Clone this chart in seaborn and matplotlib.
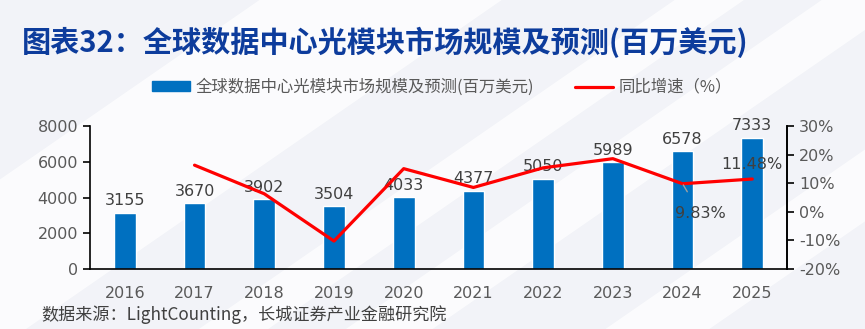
import matplotlib
matplotlib.use("Agg")
import matplotlib.pyplot as plt
import matplotlib.patches as mpatches
import matplotlib.lines as mlines
from matplotlib.ticker import FuncFormatter, FixedLocator
import seaborn as sns
import pandas as pd
import numpy as np

years = ["2016", "2017", "2018", "2019", "2020", "2021", "2022", "2023", "2024", "2025"]
market = [3155, 3670, 3902, 3504, 4033, 4377, 5050, 5989, 6578, 7333]
growth = [None, 0.1632, 0.0632, -0.1020, 0.1510, 0.0853, 0.1538, 0.1859, 0.0983, 0.1148]

title = "图表32：全球数据中心光模块市场规模及预测(百万美元)"
bar_name = "全球数据中心光模块市场规模及预测(百万美元)"
line_name = "同比增速（%）"
source = "数据来源：LightCounting，长城证券产业金融研究院"

sns.set_theme(style="white")
plt.rcParams['font.family'] = ['Noto Sans CJK SC', 'DejaVu Sans']

fig = plt.figure(figsize=(8.65, 3.29), dpi=100)
fig.patch.set_facecolor("#f2f3f8")

# background axes with soft diagonal white stripes
bg = fig.add_axes([0, 0, 1, 1], zorder=-10)
bg.set_xlim(0, 1)
bg.set_ylim(0, 1)
bg.axis("off")
for x0, w in [(0.30, 0.28), (0.78, 0.08), (0.95, 0.10), (1.25, 0.12)]:
    poly = mpatches.Polygon([(x0, 1.0), (x0 + w, 1.0), (x0 + w - 0.55, 0.0), (x0 - 0.55, 0.0)],
                            closed=True, facecolor="white", edgecolor="none", alpha=0.75)
    bg.add_patch(poly)

ax = fig.add_axes([0.104, 0.182, 0.806, 0.435])
ax.patch.set_alpha(0)

df = pd.DataFrame({"year": years, "market": market,
                   "growth": [np.nan if g is None else g for g in growth]})
df["pos"] = np.arange(len(years))

sns.barplot(data=df, x="year", y="market", color="#0070C0", width=0.31,
            saturation=1, ax=ax, zorder=2)
ax.set_xlim(-0.5, len(years) - 0.5)
ax.set_ylim(0, 8000)
ax.set_yticks([0, 2000, 4000, 6000, 8000])
ax.set_xlabel("")
ax.set_ylabel("")
for i, v in enumerate(market):
    ax.text(i, v + 250, str(v), ha="center", va="bottom", fontsize=11.5,
            color="#404040", family="DejaVu Sans", zorder=5)

ax.spines["top"].set_visible(False)
for s in ["left", "bottom", "right"]:
    ax.spines[s].set_color("black")
    ax.spines[s].set_linewidth(1.2)

ax.tick_params(axis="x", which="major", length=0, pad=12, labelsize=11.5, labelcolor="#595959")
ax.xaxis.set_minor_locator(FixedLocator(np.arange(-0.5, len(years), 1.0)))
ax.tick_params(axis="x", which="minor", length=6, width=1.2, color="black", direction="out")
ax.tick_params(axis="y", length=5, width=1.2, color="black", direction="out",
               labelsize=11.5, labelcolor="#595959", left=True)
for lab in ax.get_xticklabels() + ax.get_yticklabels():
    lab.set_family("DejaVu Sans")

ax2 = ax.twinx()
sns.lineplot(data=df.dropna(), x="pos", y="growth", color="#FF0000", linewidth=2.3,
             ax=ax2, zorder=4)
ax2.set_ylim(-0.2, 0.3)
ax2.set_yticks([-0.2, -0.1, 0, 0.1, 0.2, 0.3])
ax2.yaxis.set_major_formatter(FuncFormatter(lambda v, p: f"{v*100:.0f}%"))
ax2.set_xlabel("")
ax2.set_ylabel("")
for s in ["top", "left", "bottom"]:
    ax2.spines[s].set_visible(False)
ax2.spines["right"].set_color("black")
ax2.spines["right"].set_linewidth(1.2)
ax2.tick_params(axis="y", length=5, width=1.2, color="black", direction="out",
                labelsize=11.5, labelcolor="#595959", right=True)
for lab in ax2.get_yticklabels():
    lab.set_family("DejaVu Sans")
ax2.set_xlim(-0.5, len(years) - 0.5)

# data labels for last two growth points
ax2.annotate(f"{growth[8]*100:.2f}%", xy=(8, growth[8]), xytext=(8.25, -0.005),
             ha="center", va="center", fontsize=11.5, color="#404040", family="DejaVu Sans",
             arrowprops=dict(arrowstyle="-", color="#a0a0a0", lw=1,
                             shrinkA=9, shrinkB=1), zorder=6)
ax2.text(9, growth[9] + 0.05, f"{growth[9]*100:.2f}%", ha="center", va="center",
         fontsize=11.5, color="#404040", family="DejaVu Sans", zorder=6)

# title
fig.text(0.025, 0.872, title, fontsize=21, fontweight="bold", color="#0d3c9c",
         ha="left", va="center")

# legend
handles = [mpatches.Patch(color="#0070C0"),
           mlines.Line2D([], [], color="#FF0000", linewidth=2.3)]
leg = fig.legend(handles, [bar_name, line_name], loc="center left", bbox_to_anchor=(0.176, 0.735),
                 ncol=2, frameon=False, fontsize=11.8, handlelength=2.3, handleheight=0.55,
                 columnspacing=2.5, handletextpad=0.35, borderpad=0, borderaxespad=0)
for t in leg.get_texts():
    t.set_color("#595959")

fig.text(0.048, 0.045, source, fontsize=12.3, color="#404040", ha="left", va="center")

fig.savefig("out.png", dpi=100, facecolor=fig.get_facecolor())
